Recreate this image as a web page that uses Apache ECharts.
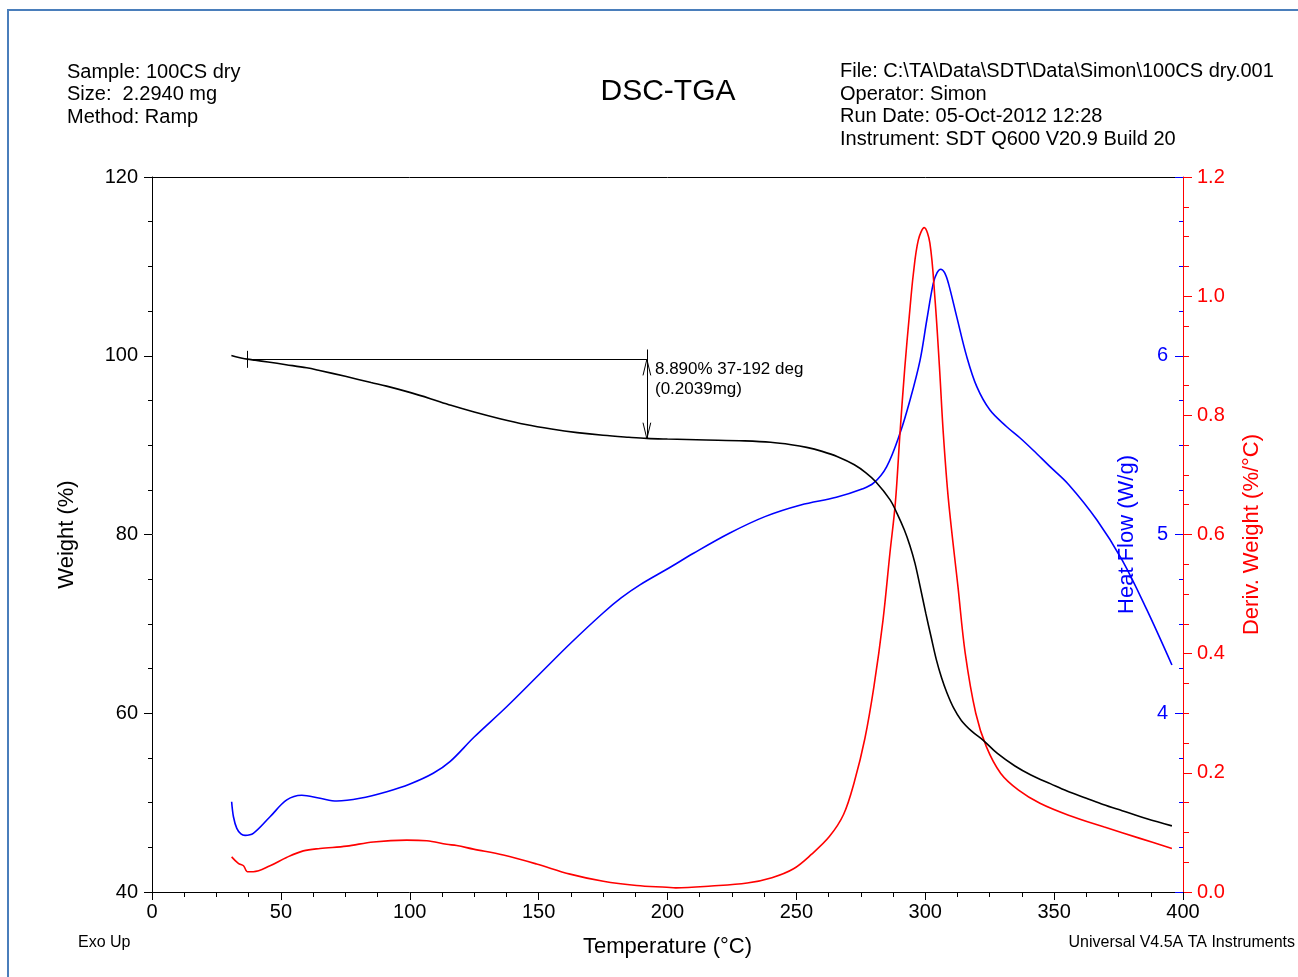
<!DOCTYPE html>
<html><head><meta charset="utf-8">
<script src="https://cdn.jsdelivr.net/npm/echarts@6/dist/echarts.min.js"></script>
<style>html,body{margin:0;padding:0;background:#fff}#c{width:1298px;height:977px}</style>
</head><body><div id="c"></div>
<script>
// ---- Data ----
const weightT = [30.8,32.5,35,37,40,45,52,60,65,75,85,91,100,108,116,125,135,145,155,165,175,185,192,200,215,230,240,248,254,260,266,272.5,277,280.8,286.3,289,291.9,294,296,298,300.2,302.3,304.3,306.3,308.4,311,314,318,322.4,328,334.8,341,348.7,355,362.5,369,376.4,386,395.7];
const weightV = [100.02,99.88,99.72,99.62,99.5,99.3,99.0,98.65,98.35,97.7,97.0,96.6,95.9,95.2,94.45,93.7,92.95,92.3,91.8,91.4,91.1,90.88,90.75,90.68,90.58,90.47,90.32,90.05,89.75,89.3,88.7,87.8,86.9,85.9,83.9,82.4,80.5,78.8,76.8,74.2,71.2,68.5,66.0,64.0,62.3,60.6,59.2,58.0,57.0,55.5,54.1,53.1,52.1,51.3,50.5,49.8,49.1,48.2,47.4];

const heatT = [30.9,31.6,32.9,34.5,36.1,39.3,45.8,52.3,58.1,65.2,71.7,80.7,91.1,100.1,109.1,115.6,125,137.5,150,162.5,175,182,189.3,200.4,210.1,224,237.8,251.7,265.5,275.2,279.9,285,290.2,294.1,298,300.6,303.1,304.6,306,307.5,309,312.2,316.1,320,325.1,331.6,336.8,342,348,355.6,366.6,376.4,386,395.7];
const heatV = [3.505,3.421,3.356,3.325,3.317,3.328,3.421,3.515,3.541,3.524,3.509,3.524,3.561,3.604,3.664,3.729,3.867,4.035,4.214,4.393,4.561,4.645,4.718,4.811,4.895,5.007,5.100,5.165,5.208,5.253,5.287,5.379,5.566,5.752,5.976,6.200,6.405,6.465,6.484,6.465,6.405,6.219,5.995,5.827,5.696,5.603,5.540,5.470,5.385,5.280,5.081,4.857,4.578,4.270];

const derivT = [30.9,33.5,35.5,36.5,37,39.3,45.8,52.2,58.7,65.2,75.5,85.9,98.8,106.6,114.3,118.2,124.7,136.3,149.2,162.2,175.1,188,199.7,203.2,217,230.9,240.5,248.9,255.8,262.8,268.3,272.5,276.6,280.1,283.6,286.3,288.4,290.2,292.1,293.8,295.4,297.3,299.6,301.8,303.8,305.5,307,309,312.7,315.5,319.6,323.7,329.3,336.2,344.5,355.6,369.5,383.3,395.7];
const derivV = [0.059,0.048,0.044,0.036,0.034,0.034,0.044,0.058,0.069,0.073,0.077,0.084,0.087,0.086,0.080,0.078,0.072,0.062,0.047,0.030,0.018,0.011,0.008,0.007,0.010,0.015,0.024,0.039,0.063,0.093,0.130,0.185,0.258,0.345,0.456,0.569,0.653,0.770,0.882,0.966,1.038,1.094,1.115,1.089,0.994,0.882,0.770,0.658,0.512,0.401,0.300,0.244,0.199,0.171,0.149,0.129,0.109,0.090,0.073];

// step annotation (data-space values)
const stepFromT = 37, stepToT = 192, stepTopW = 99.60, stepBottomW = 90.71;
const stepText = '8.890% 37-192 deg\n(0.2039mg)';

const xTicks = {min:0, max:400, interval:50};
const weightAxis = {min:40, max:120, interval:20};
const derivAxis = {min:0, max:1.2, interval:0.2};
const heatAxis = {min:3, max:7, interval:1};

const zip = (a,b) => a.map((t,i)=>[t,b[i]]);
const FF = '"Liberation Sans", Arial, sans-serif';
const BLUE = '#0000ff', RED = '#ff0000';

const chart = echarts.init(document.getElementById('c'));
const seg = (a,b) => [{coord:a},{coord:b}];
chart.setOption({
  animation:false,
  textStyle:{fontFamily:FF},
  grid:{left:152, right:115, top:177, bottom:85},
  xAxis:[{
    type:'value', min:xTicks.min, max:xTicks.max, interval:xTicks.interval, position:'bottom',
    axisLine:{onZero:false, lineStyle:{color:'#000', width:1}},
    axisTick:{length:8, lineStyle:{color:'#000'}},
    minorTick:{show:true, splitNumber:4, length:5, lineStyle:{color:'#000'}},
    axisLabel:{fontSize:20, color:'#000', margin:10, fontFamily:FF},
    splitLine:{show:false},
    name:'Temperature (°C)', nameLocation:'middle', nameGap:44,
    nameTextStyle:{fontSize:22, color:'#000', fontFamily:FF}
  },{
    type:'value', min:xTicks.min, max:xTicks.max, position:'top',
    axisLine:{onZero:false, lineStyle:{color:'#000', width:1}},
    axisTick:{show:false}, axisLabel:{show:false}, splitLine:{show:false}
  }],
  yAxis:[{
    type:'value', position:'left', min:weightAxis.min, max:weightAxis.max, interval:weightAxis.interval,
    axisLine:{show:true, onZero:false, lineStyle:{color:'#000', width:1}},
    axisTick:{length:8, lineStyle:{color:'#000'}},
    minorTick:{show:true, splitNumber:4, length:4, lineStyle:{color:'#000'}},
    axisLabel:{fontSize:20, color:'#000', margin:14, fontFamily:FF},
    splitLine:{show:false},
    name:'Weight (%)', nameLocation:'middle', nameGap:74,
    nameTextStyle:{fontSize:22, color:'#000', fontFamily:FF}
  },{
    type:'value', position:'right', min:derivAxis.min, max:derivAxis.max, interval:derivAxis.interval,
    axisLine:{show:true, onZero:false, lineStyle:{color:RED, width:1}},
    axisTick:{length:9, lineStyle:{color:RED}},
    minorTick:{show:true, splitNumber:4, length:6, lineStyle:{color:RED}},
    axisLabel:{fontSize:20, color:RED, margin:14, fontFamily:FF, formatter:v=>v.toFixed(1), showMinLabel:true, showMaxLabel:true},
    splitLine:{show:false},
    name:'Deriv. Weight (%/°C)', nameLocation:'middle', nameGap:58,
    nameTextStyle:{fontSize:22, color:RED, fontFamily:FF}
  },{
    type:'value', position:'right', min:heatAxis.min, max:heatAxis.max, interval:heatAxis.interval,
    axisLine:{show:false, onZero:false},
    axisTick:{show:true, inside:true, length:8, lineStyle:{color:BLUE}},
    minorTick:{show:true, splitNumber:4, length:4, lineStyle:{color:BLUE}},
    axisLabel:{inside:true, fontSize:20, color:BLUE, margin:15, fontFamily:FF,
      formatter:v=> (v===heatAxis.min||v===heatAxis.max)?'':String(v)},
    splitLine:{show:false},
    name:'Heat Flow (W/g)', nameLocation:'middle', nameGap:-67,
    nameTextStyle:{fontSize:22, color:BLUE, fontFamily:FF}
  }],
  series:[{
    name:'Weight', type:'line', xAxisIndex:0, yAxisIndex:0, data:zip(weightT,weightV),
    symbol:'none', smooth:0.35, lineStyle:{color:'#000', width:1.6}, z:3,
    markLine:{
      silent:true, symbol:['none','none'], label:{show:false},
      lineStyle:{color:'#000', width:1, type:'solid'},
      emphasis:{disabled:true},
      data:[
        seg([stepFromT, stepTopW],[stepToT, stepTopW]),
        seg([stepFromT, stepTopW+0.95],[stepFromT, stepTopW-0.95]),
        seg([stepToT, stepTopW+1.1],[stepToT, stepBottomW]),
        seg([stepToT, stepTopW],[stepToT-1.5, stepTopW-1.8]),
        seg([stepToT, stepTopW],[stepToT+1.5, stepTopW-1.8]),
        seg([stepToT, stepBottomW],[stepToT-1.5, stepBottomW+1.8]),
        seg([stepToT, stepBottomW],[stepToT+1.5, stepBottomW+1.8])
      ]
    },
    markPoint:{
      silent:true, symbol:'circle', symbolSize:0,
      data:[{coord:[stepToT+1.2, 97.4], label:{show:true, position:'right', distance:5, formatter:stepText,
        color:'#000', fontSize:17, lineHeight:20, fontFamily:FF, align:'left'}}]
    }
  },{
    name:'Heat Flow', type:'line', xAxisIndex:0, yAxisIndex:2, data:zip(heatT,heatV),
    symbol:'none', smooth:0.35, lineStyle:{color:BLUE, width:1.6}, z:2
  },{
    name:'Deriv. Weight', type:'line', xAxisIndex:0, yAxisIndex:1, data:zip(derivT,derivV),
    symbol:'none', smooth:0.35, lineStyle:{color:RED, width:1.6}, z:2
  }],
  graphic:[
    {type:'rect', shape:{x:8, y:10, width:1400, height:1100}, style:{fill:'none', stroke:'#4a7ebb', lineWidth:2}, silent:true},
    {type:'text', x:67, y:94.5, style:{text:'Sample: 100CS dry\nSize:  2.2940 mg\nMethod: Ramp', fontSize:20, fontFamily:FF, lineHeight:22.5, fill:'#000', align:'left', verticalAlign:'middle'}},
    {type:'text', x:668, y:92, style:{text:'DSC-TGA', fontSize:30, fontFamily:FF, fill:'#000', align:'center', verticalAlign:'middle'}},
    {type:'text', x:840, y:105.5, style:{text:'File: C:\\TA\\Data\\SDT\\Data\\Simon\\100CS dry.001\nOperator: Simon\nRun Date: 05-Oct-2012 12:28\nInstrument: SDT Q600 V20.9 Build 20', fontSize:20, fontFamily:FF, lineHeight:22.4, fill:'#000', align:'left', verticalAlign:'middle'}},
    {type:'text', x:78, y:943, style:{text:'Exo Up', fontSize:16, fontFamily:FF, fill:'#000', align:'left', verticalAlign:'middle'}},
    {type:'text', x:1295, y:943, style:{text:'Universal V4.5A TA Instruments', fontSize:16, fontFamily:FF, fill:'#000', align:'right', verticalAlign:'middle'}}
  ]
});
</script>
</body></html>
